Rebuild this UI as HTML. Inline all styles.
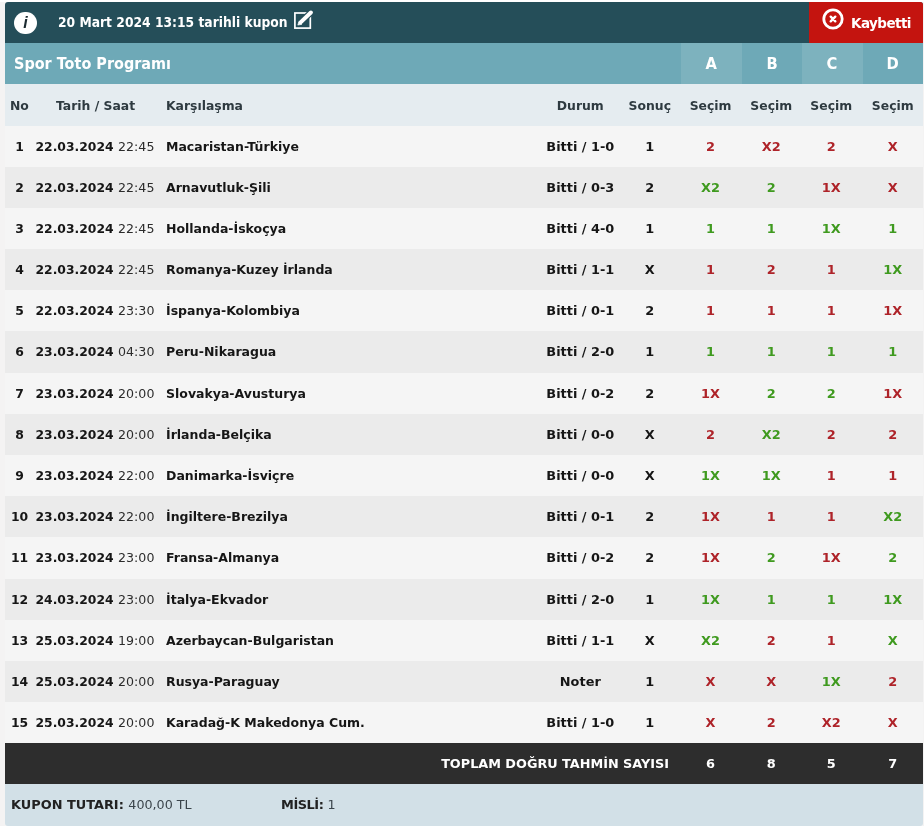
<!DOCTYPE html>
<html lang="tr"><head><meta charset="utf-8"><title>Spor Toto Kupon</title>
<style>
html,body{margin:0;padding:0;}
body{width:924px;height:833px;background:#fff;position:relative;overflow:hidden;
 font-family:"DejaVu Sans","Liberation Sans",sans-serif;font-weight:bold;color:#161616;font-size:12.4px;}
#bg{position:absolute;left:0;top:2px;width:924px;height:824px;background:#f4f3f3;}
#card{position:absolute;left:5px;top:2px;width:918px;height:824px;border-radius:3px;overflow:hidden;background:#f5f5f5;}
#h1{position:absolute;left:0;top:0px;width:100%;height:41px;background:#254e59;color:#fff;}
#h1 .ic{position:absolute;left:9.3px;top:9.6px;width:22.4px;height:22.4px;border-radius:50%;background:#fff;color:#1c2a30;
  font-family:"Liberation Sans",sans-serif;font-style:italic;font-weight:bold;font-size:16px;line-height:22.8px;text-align:center;}
#h1 .tt{position:absolute;left:52.5px;top:0;line-height:42px;font-size:13.2px;white-space:nowrap;transform:scaleX(0.935);transform-origin:0 0;}
#h1 .ed{position:absolute;left:287px;top:6px;}
#kay{position:absolute;right:0;top:0;width:114px;height:41px;background:#c4140f;color:#fff;}
#kay .tx{position:absolute;left:42px;top:0.7px;line-height:41px;font-size:13.5px;letter-spacing:-0.55px;}
#kay svg{position:absolute;left:12.2px;top:4.9px;}
#h2{position:absolute;left:0;top:41px;width:100%;height:41px;background:#6ea9b7;color:#fff;}
#h2 .tt{position:absolute;left:8.5px;top:0;line-height:41px;font-size:16.2px;white-space:nowrap;transform:scaleX(0.89);transform-origin:0 0;}
#h2 .c{position:absolute;top:0;height:41px;width:60.5px;line-height:41px;text-align:center;font-size:16px;}
#h2 .c span{display:inline-block;transform:scaleX(0.92);}
#h2 .c0{left:676px;background:#7db2be;} #h2 .c1{left:736.5px;} #h2 .c2{left:797px;background:#7db2be;} #h2 .c3{left:857.5px;}
#h3{position:absolute;left:0;top:82px;width:100%;height:42px;background:#e5ecf0;color:#2e3a40;line-height:42px;}
#h3 span{position:absolute;top:0.5px;white-space:nowrap;font-size:12.4px;}
.row{position:absolute;left:0;width:100%;}
.row span{position:absolute;top:0;white-space:nowrap;}
.row.e{background:#ebebeb;}
.no{left:0;width:29px;text-align:center;}
.dt{left:30.5px;font-weight:normal;font-size:12.6px;color:#2b2b2b;}
.dt b{color:#161616;font-weight:bold;font-size:12.35px;margin-right:0.5px;}
.mt{left:161px;font-size:12.5px;}
.du{left:525.3px;width:100px;text-align:center;font-size:12.9px;}
.so{left:614.8px;width:60px;text-align:center;font-size:12.9px;}
.s{width:60.5px;text-align:center;font-size:12.9px;}
.s0{left:675.3px;} .s1{left:736px;} .s2{left:796px;} .s3{left:857.5px;}
.r{color:#ae2329;} .g{color:#3f9a1f;}
#tot{position:absolute;left:0;top:741px;width:100%;height:41px;background:#2d2d2d;color:#fff;line-height:41px;}
#tot span{position:absolute;top:0;white-space:nowrap;}
#tot .lb{right:254px;font-size:12.8px;}
#ft{position:absolute;left:0;top:782px;width:100%;height:42px;background:#d2e0e7;color:#222;line-height:42px;}
#ft span{position:absolute;top:0;white-space:nowrap;font-size:12.9px;}
#ft i{font-style:normal;font-weight:normal;font-size:12.7px;color:#3a444b;}
</style></head><body>
<div id="bg"></div>
<div id="card">
<div id="h1"><div class="ic">i</div><div class="tt">20 Mart 2024 13:15 tarihli kupon</div>
<svg class="ed" width="24" height="24" viewBox="0 0 24 24"><rect x="2.9" y="5" width="15.4" height="15.1" fill="none" stroke="#fff" stroke-width="1.7"/><path d="M8.8 14.2L19.1 4.3" stroke="#254e59" stroke-width="6.4" stroke-linecap="round"/><path d="M8.6 14.4L18.9 4.5" stroke="#fff" stroke-width="4" stroke-linecap="round"/><path d="M5.8 17.1L6.9 13.4L9.9 16.3Z" fill="#fff" stroke="#fff" stroke-width="0.6" stroke-linejoin="round"/></svg>
<div id="kay"><svg width="24" height="24" viewBox="0 0 24 24"><circle cx="12" cy="12" r="9.2" fill="none" stroke="#fff" stroke-width="2.8"/><path d="M9.7 9.7L14.3 14.3M14.3 9.7L9.7 14.3" stroke="#fff" stroke-width="2.4" stroke-linecap="round"/></svg><div class="tx">Kaybetti</div></div>
</div>
<div id="h2"><div class="tt">Spor Toto Programı</div><div class="c c0"><span>A</span></div><div class="c c1"><span>B</span></div><div class="c c2"><span>C</span></div><div class="c c3"><span>D</span></div></div>
<div id="h3"><span style="left:5px">No</span><span style="left:51px">Tarih / Saat</span><span style="left:161px">Karşılaşma</span><span class="du">Durum</span><span class="so">Sonuç</span><span class="s s0">Seçim</span><span class="s s1">Seçim</span><span class="s s2">Seçim</span><span class="s s3">Seçim</span></div>
<div class="row" style="top:124px;height:41px;line-height:41px"><span class="no">1</span><span class="dt"><b>22.03.2024</b> 22:45</span><span class="mt">Macaristan-Türkiye</span><span class="du">Bitti / 1-0</span><span class="so">1</span><span class="s s0 r">2</span><span class="s s1 r">X2</span><span class="s s2 r">2</span><span class="s s3 r">X</span></div>
<div class="row e" style="top:165px;height:41px;line-height:41px"><span class="no">2</span><span class="dt"><b>22.03.2024</b> 22:45</span><span class="mt">Arnavutluk-Şili</span><span class="du">Bitti / 0-3</span><span class="so">2</span><span class="s s0 g">X2</span><span class="s s1 g">2</span><span class="s s2 r">1X</span><span class="s s3 r">X</span></div>
<div class="row" style="top:206px;height:41px;line-height:41px"><span class="no">3</span><span class="dt"><b>22.03.2024</b> 22:45</span><span class="mt">Hollanda-İskoçya</span><span class="du">Bitti / 4-0</span><span class="so">1</span><span class="s s0 g">1</span><span class="s s1 g">1</span><span class="s s2 g">1X</span><span class="s s3 g">1</span></div>
<div class="row e" style="top:247px;height:41px;line-height:41px"><span class="no">4</span><span class="dt"><b>22.03.2024</b> 22:45</span><span class="mt">Romanya-Kuzey İrlanda</span><span class="du">Bitti / 1-1</span><span class="so">X</span><span class="s s0 r">1</span><span class="s s1 r">2</span><span class="s s2 r">1</span><span class="s s3 g">1X</span></div>
<div class="row" style="top:288px;height:41px;line-height:41px"><span class="no">5</span><span class="dt"><b>22.03.2024</b> 23:30</span><span class="mt">İspanya-Kolombiya</span><span class="du">Bitti / 0-1</span><span class="so">2</span><span class="s s0 r">1</span><span class="s s1 r">1</span><span class="s s2 r">1</span><span class="s s3 r">1X</span></div>
<div class="row e" style="top:329px;height:42px;line-height:42px"><span class="no">6</span><span class="dt"><b>23.03.2024</b> 04:30</span><span class="mt">Peru-Nikaragua</span><span class="du">Bitti / 2-0</span><span class="so">1</span><span class="s s0 g">1</span><span class="s s1 g">1</span><span class="s s2 g">1</span><span class="s s3 g">1</span></div>
<div class="row" style="top:371px;height:41px;line-height:41px"><span class="no">7</span><span class="dt"><b>23.03.2024</b> 20:00</span><span class="mt">Slovakya-Avusturya</span><span class="du">Bitti / 0-2</span><span class="so">2</span><span class="s s0 r">1X</span><span class="s s1 g">2</span><span class="s s2 g">2</span><span class="s s3 r">1X</span></div>
<div class="row e" style="top:412px;height:41px;line-height:41px"><span class="no">8</span><span class="dt"><b>23.03.2024</b> 20:00</span><span class="mt">İrlanda-Belçika</span><span class="du">Bitti / 0-0</span><span class="so">X</span><span class="s s0 r">2</span><span class="s s1 g">X2</span><span class="s s2 r">2</span><span class="s s3 r">2</span></div>
<div class="row" style="top:453px;height:41px;line-height:41px"><span class="no">9</span><span class="dt"><b>23.03.2024</b> 22:00</span><span class="mt">Danimarka-İsviçre</span><span class="du">Bitti / 0-0</span><span class="so">X</span><span class="s s0 g">1X</span><span class="s s1 g">1X</span><span class="s s2 r">1</span><span class="s s3 r">1</span></div>
<div class="row e" style="top:494px;height:41px;line-height:41px"><span class="no">10</span><span class="dt"><b>23.03.2024</b> 22:00</span><span class="mt">İngiltere-Brezilya</span><span class="du">Bitti / 0-1</span><span class="so">2</span><span class="s s0 r">1X</span><span class="s s1 r">1</span><span class="s s2 r">1</span><span class="s s3 g">X2</span></div>
<div class="row" style="top:535px;height:42px;line-height:42px"><span class="no">11</span><span class="dt"><b>23.03.2024</b> 23:00</span><span class="mt">Fransa-Almanya</span><span class="du">Bitti / 0-2</span><span class="so">2</span><span class="s s0 r">1X</span><span class="s s1 g">2</span><span class="s s2 r">1X</span><span class="s s3 g">2</span></div>
<div class="row e" style="top:577px;height:41px;line-height:41px"><span class="no">12</span><span class="dt"><b>24.03.2024</b> 23:00</span><span class="mt">İtalya-Ekvador</span><span class="du">Bitti / 2-0</span><span class="so">1</span><span class="s s0 g">1X</span><span class="s s1 g">1</span><span class="s s2 g">1</span><span class="s s3 g">1X</span></div>
<div class="row" style="top:618px;height:41px;line-height:41px"><span class="no">13</span><span class="dt"><b>25.03.2024</b> 19:00</span><span class="mt">Azerbaycan-Bulgaristan</span><span class="du">Bitti / 1-1</span><span class="so">X</span><span class="s s0 g">X2</span><span class="s s1 r">2</span><span class="s s2 r">1</span><span class="s s3 g">X</span></div>
<div class="row e" style="top:659px;height:41px;line-height:41px"><span class="no">14</span><span class="dt"><b>25.03.2024</b> 20:00</span><span class="mt">Rusya-Paraguay</span><span class="du">Noter</span><span class="so">1</span><span class="s s0 r">X</span><span class="s s1 r">X</span><span class="s s2 g">1X</span><span class="s s3 r">2</span></div>
<div class="row" style="top:700px;height:41px;line-height:41px"><span class="no">15</span><span class="dt"><b>25.03.2024</b> 20:00</span><span class="mt">Karadağ-K Makedonya Cum.</span><span class="du">Bitti / 1-0</span><span class="so">1</span><span class="s s0 r">X</span><span class="s s1 r">2</span><span class="s s2 r">X2</span><span class="s s3 r">X</span></div>
<div id="tot"><span class="lb">TOPLAM DOĞRU TAHMİN SAYISI</span><span class="s s0">6</span><span class="s s1">8</span><span class="s s2">5</span><span class="s s3">7</span></div>
<div id="ft"><span style="left:6px">KUPON TUTARI: <i>400,00 TL</i></span><span style="left:276px;letter-spacing:-0.45px">MİSLİ: <i>1</i></span></div>
</div>
</body></html>
